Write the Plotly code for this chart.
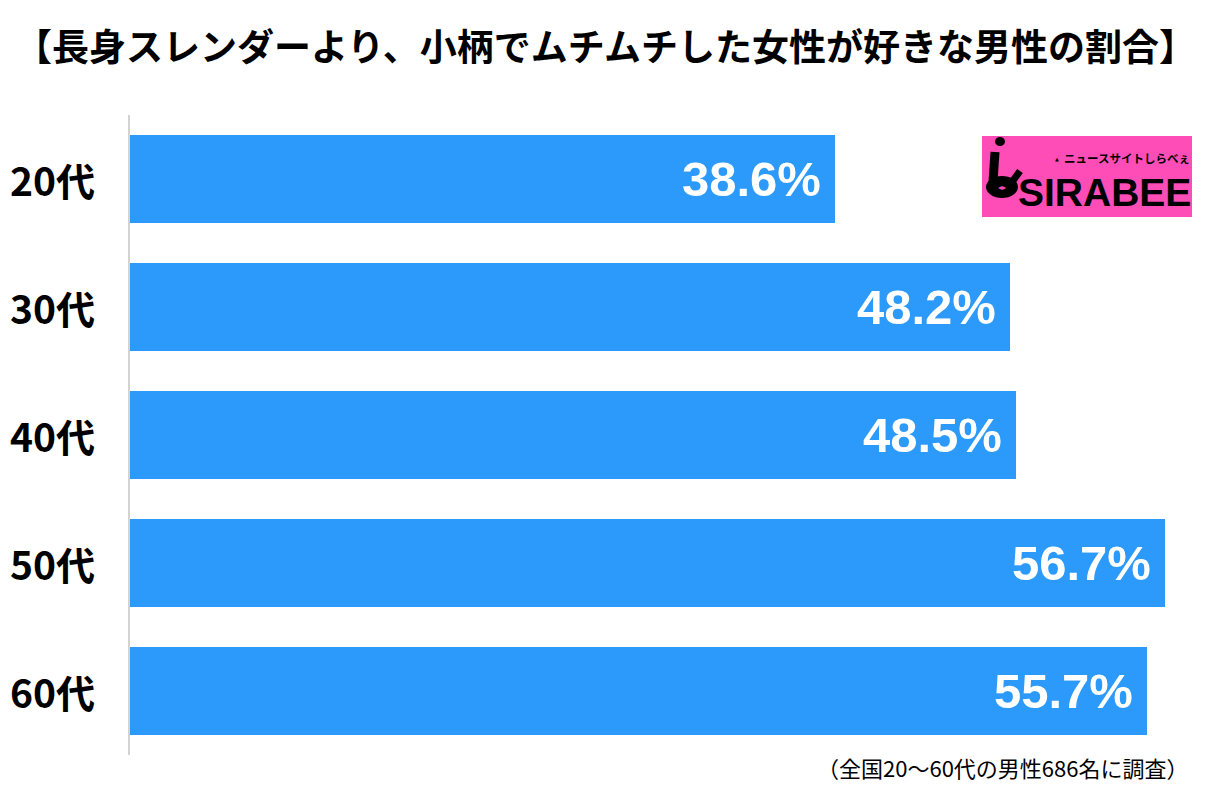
import plotly.graph_objects as go

# データ
ages = ['20代', '30代', '40代', '50代', '60代']
values = [38.6, 48.2, 48.5, 56.7, 55.7]
labels = ['38.6%', '48.2%', '48.5%', '56.7%', '55.7%']

title = '【長身スレンダーより、小柄でムチムチした女性が好きな男性の割合】'
note = '（全国20〜60代の男性686名に調査）'

jp = 'Noto Sans CJK JP'
bar_color = '#2B9AFB'

# ページ余白(8px)を差し引いた配置
W, H = 1194, 794
L, T, B = 122, 107, 47
PW, PH = W - L, H - T - B


def px(x):
    # 画面x座標 -> paper
    return (x - 8 - L) / PW


def py(y):
    # 画面y座標 -> paper
    return 1 - (y - 8 - T) / PH


fig = go.Figure()
fig.add_trace(go.Bar(
    x=values,
    y=ages,
    orientation='h',
    marker=dict(color=bar_color, line=dict(width=0)),
    width=0.69,
    hoverinfo='skip',
))

# バー内の数値ラベル
for a, v, t in zip(ages, values, labels):
    fig.add_annotation(x=v, y=a, xref='x', yref='y', text='<b>' + t + '</b>',
                       showarrow=False, xanchor='right', xshift=-12,
                       font=dict(family='Liberation Sans, Arial', size=49, color='white'))

# 年代ラベル
for a in ages:
    fig.add_annotation(x=px(8), y=a, xref='paper', yref='y', text='<b>' + a + '</b>',
                       showarrow=False, xanchor='left',
                       font=dict(family=jp, size=39, color='black'))

# タイトル
fig.add_annotation(x=px(605), y=py(45), xref='paper', yref='paper',
                   text='<b>' + title + '</b>', showarrow=False,
                   xanchor='center', yanchor='middle',
                   font=dict(family=jp, size=37, color='black'))

# 注記
fig.add_annotation(x=px(1190), y=py(767), xref='paper', yref='paper',
                   text=note, showarrow=False, xanchor='right', yanchor='middle',
                   font=dict(family=jp, size=22, color='black'))

# ロゴ（しらべぇ）
fig.add_shape(type='rect', xref='paper', yref='paper',
              x0=px(982), x1=px(1192), y0=py(217), y1=py(136),
              fillcolor='#FF4DB8', line=dict(width=0), layer='above')
fig.add_shape(type='circle', xref='paper', yref='paper',
              x0=px(995), x1=px(1005), y0=py(146), y1=py(137),
              fillcolor='black', line=dict(width=0), layer='above')
fig.add_shape(type='line', xref='paper', yref='paper',
              x0=px(995), x1=px(993), y0=py(152), y1=py(182),
              line=dict(color='black', width=9), layer='above')
fig.add_shape(type='circle', xref='paper', yref='paper',
              x0=px(986), x1=px(1018), y0=py(198), y1=py(176),
              fillcolor='black', line=dict(width=0), layer='above')
fig.add_shape(type='line', xref='paper', yref='paper',
              x0=px(1012), x1=px(1020), y0=py(182), y1=py(171),
              line=dict(color='black', width=7), layer='above')
fig.add_annotation(x=px(1002), y=py(187), xref='paper', yref='paper',
                   text='◂▸', showarrow=False, xanchor='center', yanchor='middle',
                   font=dict(family='DejaVu Sans', size=8, color='#FF4DB8'))
fig.add_annotation(x=px(1061), y=py(159), xref='paper', yref='paper',
                   text='▲', showarrow=False, xanchor='right', yanchor='middle',
                   font=dict(family='DejaVu Sans', size=5, color='black'))
fig.add_annotation(x=px(1192), y=py(158), xref='paper', yref='paper',
                   text='<b>ニュースサイトしらべぇ</b>', showarrow=False, xanchor='right', yanchor='middle',
                   font=dict(family=jp, size=11.5, color='black'))
fig.add_annotation(x=px(1193), y=py(192), xref='paper', yref='paper',
                   text='<b>SIRABEE</b>', showarrow=False, xanchor='right', yanchor='middle',
                   font=dict(family='Liberation Sans', size=39, color='black'))

fig.update_layout(
    width=W, height=H,
    margin=dict(l=L, r=0, t=T, b=B, pad=0),
    paper_bgcolor='white', plot_bgcolor='white',
    showlegend=False,
    xaxis=dict(range=[0, PW / 18.26], visible=False, fixedrange=True),
    yaxis=dict(categoryorder='array', categoryarray=ages, autorange='reversed',
               showticklabels=False, showgrid=False, zeroline=False,
               showline=True, linecolor='#d3d3d3', linewidth=2),
    bargap=0,
)

fig.write_html('out.html')
